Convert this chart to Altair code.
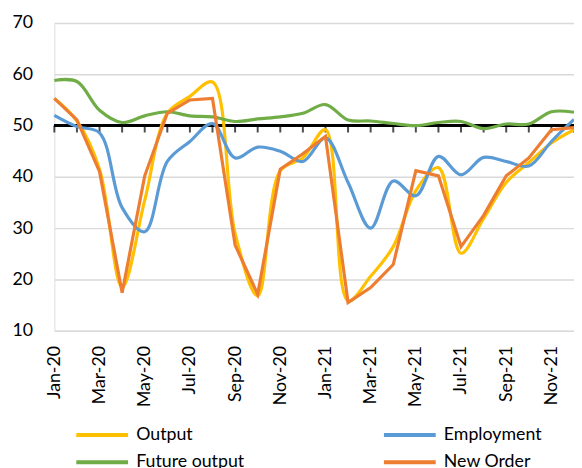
import altair as alt
import pandas as pd

months = ["Jan-20", "Feb-20", "Mar-20", "Apr-20", "May-20", "Jun-20", "Jul-20", "Aug-20",
          "Sep-20", "Oct-20", "Nov-20", "Dec-20", "Jan-21", "Feb-21", "Mar-21", "Apr-21",
          "May-21", "Jun-21", "Jul-21", "Aug-21", "Sep-21", "Oct-21", "Nov-21", "Dec-21"]

output = [55.3, 50.9, 41.5, 18.5, 35.4, 52.4, 55.7, 58.5, 29.0, 16.8, 41.2, 43.7,
          49.2, 15.8, 20.6, 26.4, 37.3, 41.8, 25.1, 31.9, 38.9, 42.8, 46.6, 49.2]
employment = [52.0, 49.8, 48.6, 34.0, 29.3, 43.0, 46.9, 50.4, 43.7, 45.8, 45.0, 43.0,
              47.6, 38.9, 30.0, 39.2, 36.3, 44.0, 40.4, 43.8, 43.0, 42.1, 46.9, 51.2]
future_output = [58.8, 58.6, 53.0, 50.6, 51.9, 52.7, 51.9, 51.7, 50.8, 51.3, 51.7, 52.4,
                 54.1, 51.1, 50.9, 50.4, 50.0, 50.6, 50.8, 49.4, 50.3, 50.3, 52.7, 52.6]
new_order = [55.3, 51.1, 41.0, 17.4, 40.2, 52.4, 55.0, 55.3, 26.7, 17.1, 41.5, 44.5,
             47.9, 15.5, 18.4, 22.9, 41.2, 40.2, 26.4, 32.5, 40.2, 43.7, 49.2, 49.6]

series_names = ["Output", "Employment", "Future output", "New Order"]
series_colors = ["#FFC000", "#5B9BD5", "#70AD47", "#ED7D31"]
series_values = [output, employment, future_output, new_order]

rows = []
for name, vals in zip(series_names, series_values):
    for m, v in zip(months, vals):
        rows.append({"month": m, "series": name, "value": v})
df = pd.DataFrame(rows)
ticks_df = pd.DataFrame({"month": months})

FONT = "Lato"

x_enc = alt.X("month:O", sort=months,
              scale=alt.Scale(type="point", padding=0, domain=months),
              axis=alt.Axis(values=months[::2], labelAngle=270, title=None,
                            ticks=False, domain=False, grid=False,
                            labelFontSize=18, labelFont=FONT, labelColor="#000000",
                            labelPadding=15))
y_scale = alt.Scale(domain=[10, 70], nice=False, zero=False)
y_enc = alt.Y("value:Q", scale=y_scale,
              axis=alt.Axis(values=[10, 20, 30, 40, 50, 60, 70], title=None,
                            ticks=False, domain=False, grid=True,
                            gridColor="#D9D9D9", gridWidth=1.5,
                            labelFontSize=18, labelFont=FONT, labelColor="#000000",
                            labelPadding=22))
# wide flat line symbol: custom path scaled by sqrt(size)/2
color_enc = alt.Color("series:N",
                      scale=alt.Scale(domain=series_names, range=series_colors),
                      legend=alt.Legend(title=None, orient="none", legendX=36, legendY=405,
                                        direction="horizontal",
                                        columns=2, columnPadding=133, rowPadding=6,
                                        symbolType="M-2.5,0H2.5", symbolSize=441,
                                        symbolStrokeWidth=4, labelFontSize=18,
                                        labelFont=FONT, labelColor="#000000",
                                        labelOffset=22))

base = alt.Chart(df)

axis_line = alt.Chart(ticks_df).mark_rule(color="#000000", strokeWidth=2).encode(
    y=alt.datum(50, scale=y_scale))
axis_ticks = alt.Chart(ticks_df).mark_tick(color="#000000", orient="vertical",
                                           size=7, thickness=2, yOffset=3.5).encode(
    x=x_enc, y=alt.datum(50, scale=y_scale))

layers = [axis_line, axis_ticks]
for name in series_names:
    interp = "linear" if name == "New Order" else "catmull-rom"
    layers.append(
        base.transform_filter(alt.datum.series == name)
        .mark_line(strokeWidth=3.2, interpolate=interp)
        .encode(x=x_enc, y=y_enc, color=color_enc)
    )

chart = alt.layer(*layers).properties(
    width=527, height=312,
    autosize=alt.AutoSizeParams(type="none"),
    padding={"left": 47, "top": 12, "right": 0, "bottom": 136},
).configure_view(stroke=None).configure(font=FONT)

chart.save("out.html", embed_options={"renderer": "svg", "actions": False})
